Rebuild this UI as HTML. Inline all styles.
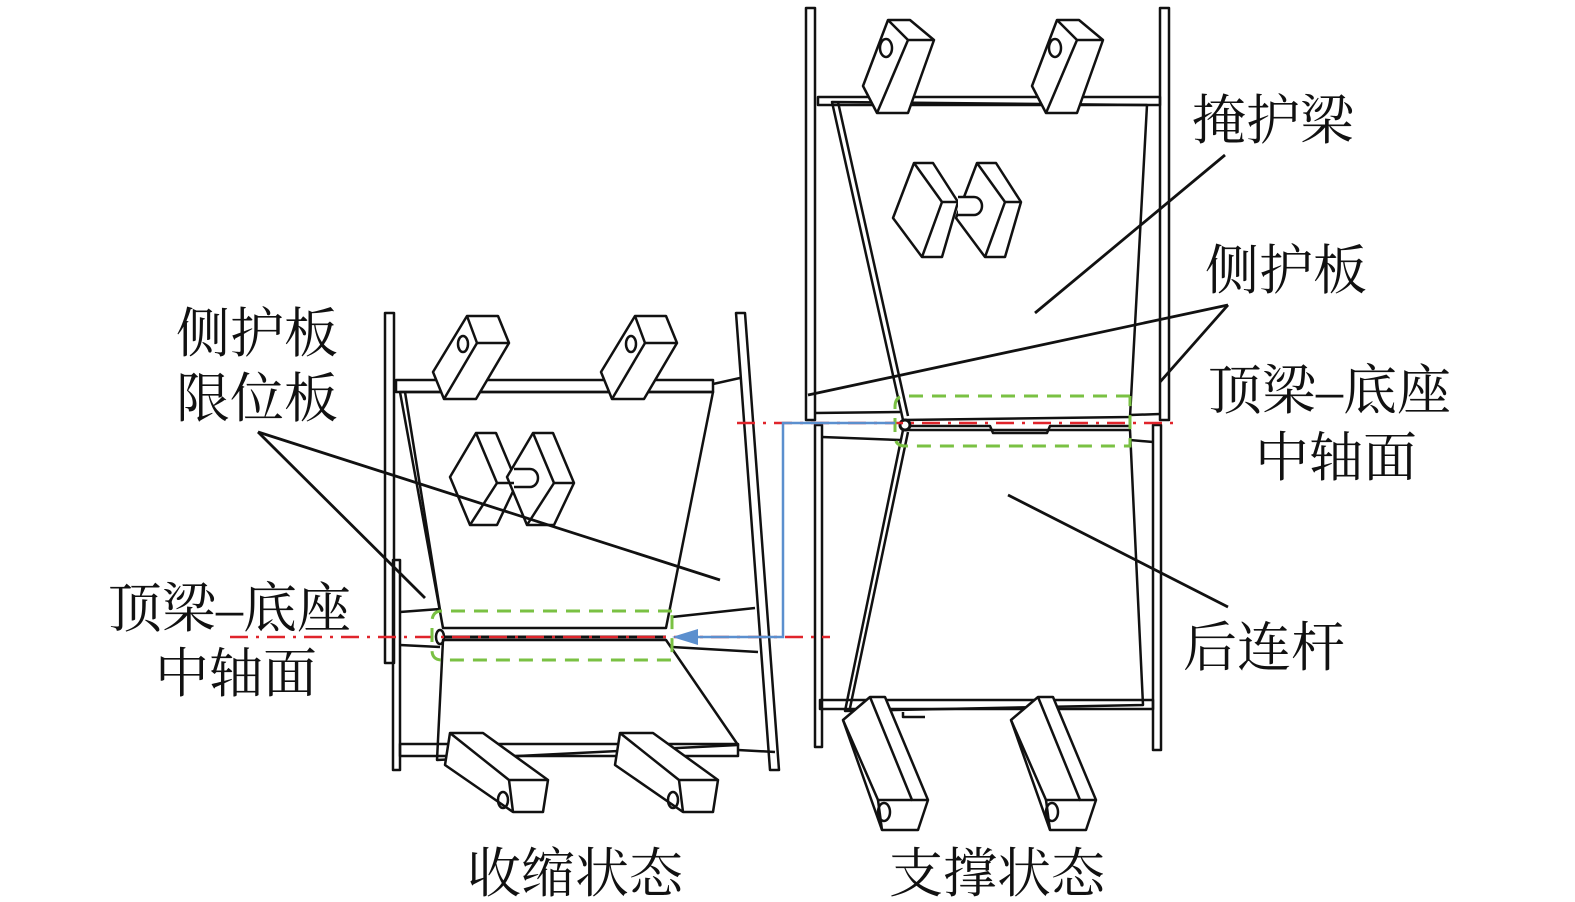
<!DOCTYPE html>
<html><head><meta charset="utf-8"><style>
html,body{margin:0;padding:0;background:#fff;}
svg{display:block;}
text{font-family:"Liberation Serif","Noto Serif CJK SC","Noto Sans CJK SC",serif;font-size:54px;fill:#111;}
</style></head><body>
<svg width="1575" height="902" viewBox="0 0 1575 902" xmlns="http://www.w3.org/2000/svg">
<g fill="none" stroke="#111" stroke-width="2.5" stroke-linejoin="round">
<!-- LEFT DRAWING -->
<rect x="385" y="313" width="9" height="350"/>
<rect x="393" y="560" width="7" height="210"/>
<polygon points="736,313 745,313 779,770 770,770"/>
<rect x="396" y="380" width="317" height="12"/>
<polygon points="400,392 713,392 666,628 443,628"/>
<line x1="405" y1="392" x2="440" y2="610"/>
<polygon points="443,640 666,640 738,745 437,760"/>
<rect x="400" y="744" width="338" height="12"/>
<line x1="400" y1="612" x2="440" y2="609"/>
<line x1="400" y1="645" x2="440" y2="647"/>
<line x1="672" y1="617" x2="755" y2="608"/>
<line x1="672" y1="647" x2="758" y2="652"/>
<line x1="713" y1="384" x2="740" y2="378"/>
<line x1="738" y1="750" x2="775" y2="752"/>
<g fill="#fff">
<polygon points="433,372 467,316 498,316 509,343 476,399 444,399"/>
<polygon points="601,372 635,316 666,316 677,343 644,399 612,399"/>
<polygon points="450,477 476,433 496,433 517,483 497,525 470,525"/>
<polygon points="507,477 533,433 553,433 574,483 554,525 527,525"/>
<polygon points="450,733 483,733 548,780 543,812 513,812 445,765"/>
<polygon points="620,733 653,733 718,780 713,812 683,812 615,765"/>
</g>
<polyline points="467,316 477,343 509,343"/><line x1="477" y1="343" x2="444" y2="399"/>
<polyline points="635,316 645,343 677,343"/><line x1="645" y1="343" x2="612" y2="399"/>
<ellipse cx="463" cy="344" rx="5" ry="8"/><ellipse cx="631" cy="344" rx="5" ry="8"/>
<polyline points="476,433 497,483 517,483"/><line x1="497" y1="483" x2="470" y2="525"/>
<polyline points="533,433 554,483 574,483"/><line x1="554" y1="483" x2="527" y2="525"/>
<path d="M514,469 h16 a8,9 0 0 1 0,18 h-16" fill="#fff"/>
<polyline points="450,733 509,780 548,780"/><line x1="509" y1="780" x2="513" y2="812"/>
<polyline points="620,733 679,780 718,780"/><line x1="679" y1="780" x2="683" y2="812"/>
<ellipse cx="503" cy="800" rx="5" ry="8"/><ellipse cx="673" cy="800" rx="5" ry="8"/>
<ellipse cx="440" cy="637" rx="4" ry="7"/>
<line x1="443" y1="637" x2="666" y2="637" stroke-width="3"/>

<!-- RIGHT DRAWING -->
<rect x="806" y="8" width="9" height="412"/>
<rect x="815" y="425" width="7" height="322"/>
<rect x="1160" y="8" width="9" height="412"/>
<rect x="1153" y="425" width="8" height="325"/>
<rect x="818" y="97" width="342" height="8"/>
<polygon points="832,102 1147,105 1130,417 903,420"/>
<line x1="838" y1="102" x2="908" y2="416"/>
<polygon points="903,430 1130,430 1143,705 845,711"/>
<line x1="908" y1="432" x2="850" y2="708"/>
<rect x="820" y="700" width="333" height="9"/>
<line x1="815" y1="413" x2="900" y2="412"/>
<line x1="822" y1="437" x2="900" y2="440"/>
<line x1="1130" y1="415" x2="1160" y2="414"/>
<line x1="1130" y1="440" x2="1153" y2="442"/>
<g fill="#fff">
<polygon points="863,86 888,20 910,20 934,40 908,113 877,113"/>
<polygon points="1032,86 1057,20 1079,20 1103,40 1077,113 1046,113"/>
<polygon points="893,218 914,163 933,163 958,202 942,257 922,257"/>
<polygon points="956,218 977,163 996,163 1021,202 1005,257 985,257"/>
<polygon points="843,720 870,697 885,697 928,800 918,830 882,830"/>
<polygon points="1011,720 1038,697 1053,697 1096,800 1086,830 1050,830"/>
</g>
<polyline points="888,20 908,40 934,40"/><line x1="908" y1="40" x2="877" y2="113"/>
<polyline points="1057,20 1077,40 1103,40"/><line x1="1077" y1="40" x2="1046" y2="113"/>
<ellipse cx="886" cy="48" rx="6" ry="9"/><ellipse cx="1055" cy="48" rx="6" ry="9"/>
<polyline points="914,163 942,202 958,202"/><line x1="942" y1="202" x2="922" y2="257"/>
<polyline points="977,163 1005,202 1021,202"/><line x1="1005" y1="202" x2="985" y2="257"/>
<path d="M958,197 h16 a8,9 0 0 1 0,18 h-16" fill="#fff"/>
<polyline points="870,697 912,800 928,800"/><polyline points="843,720 878,800 912,800"/><line x1="878" y1="800" x2="882" y2="830"/>
<polyline points="1038,697 1080,800 1096,800"/><polyline points="1011,720 1046,800 1080,800"/><line x1="1046" y1="800" x2="1050" y2="830"/>
<ellipse cx="884" cy="812" rx="6" ry="9"/><ellipse cx="1052" cy="812" rx="6" ry="9"/>
<polyline points="903,712 903,717 925,717"/>
<circle cx="905" cy="425" r="5" stroke-width="3"/>
<polyline points="910,426 990,426 993,433 1047,433 1050,426 1130,426"/>

<!-- leader lines -->
<line x1="258" y1="432" x2="425" y2="598" stroke-width="2.8"/>
<line x1="258" y1="432" x2="720" y2="580" stroke-width="2.8"/>
<line x1="1225" y1="155" x2="1035" y2="313" stroke-width="2.8"/>
<line x1="1228" y1="305" x2="808" y2="395" stroke-width="2.8"/>
<line x1="1228" y1="305" x2="1160" y2="382" stroke-width="2.8"/>
<line x1="1228" y1="607" x2="1008" y2="495" stroke-width="2.8"/>
</g>

<g stroke="#e0242b" stroke-width="2.5" stroke-dasharray="18,8,3,8" fill="none">
<line x1="230" y1="637" x2="830" y2="637"/>
<line x1="737" y1="423" x2="1180" y2="423"/>
</g>
<g stroke="#7ac143" stroke-width="3" stroke-dasharray="14,9" fill="none">
<path d="M672,611 H442 Q432,611 432,622 V650 Q432,660 442,660 H672 V611"/>
<path d="M1130,396 H905 Q895,396 895,407 V436 Q895,446 905,446 H1130 V396"/>
</g>
<polyline points="895,423 783,423 783,637 695,637" fill="none" stroke="#5b8fce" stroke-width="2.5"/>
<polygon points="672,637 698,629 698,645" fill="#5b8fce"/>

<text x="176" y="352">侧护板</text>
<text x="176" y="417">限位板</text>
<text x="108" y="627">顶梁–底座</text>
<text x="155" y="692">中轴面</text>
<text x="1192" y="139">掩护梁</text>
<text x="1205" y="289">侧护板</text>
<text x="1208" y="409">顶梁–底座</text>
<text x="1255" y="476">中轴面</text>
<text x="1183" y="666">后连杆</text>
<text x="467" y="892">收缩状态</text>
<text x="889" y="892">支撑状态</text>
</svg>
</body></html>
